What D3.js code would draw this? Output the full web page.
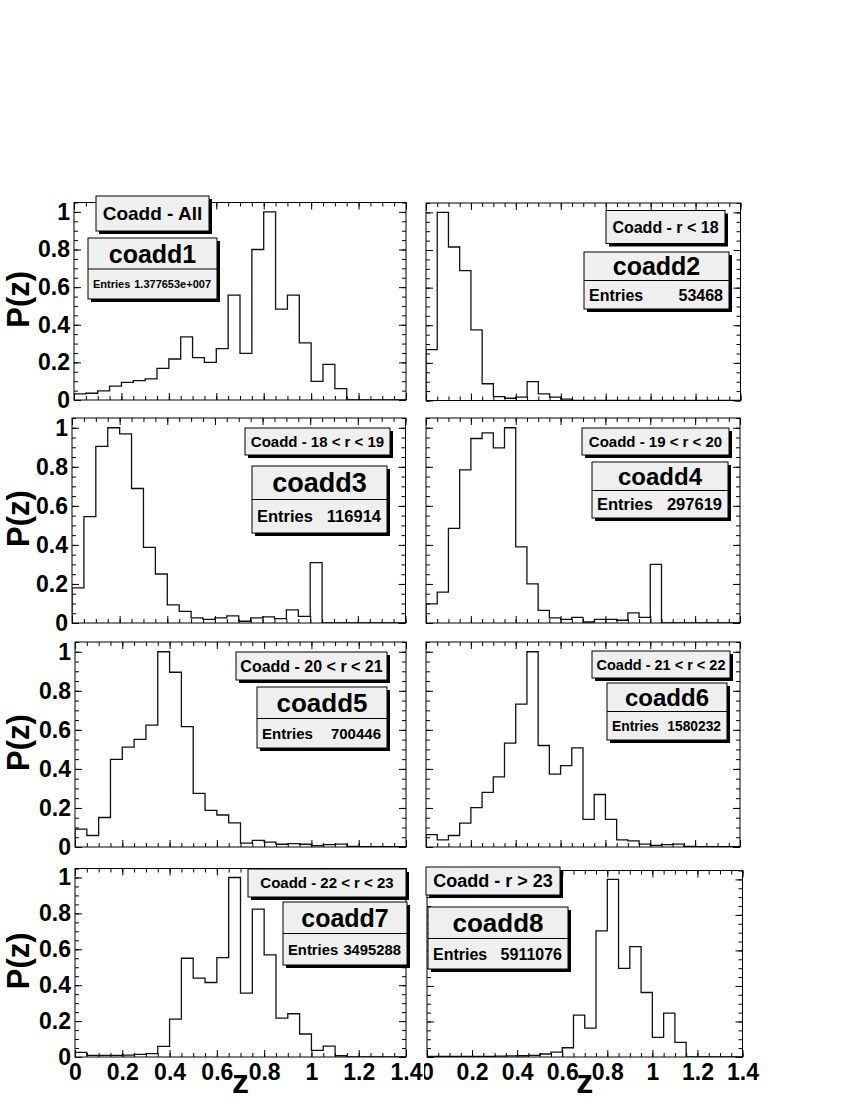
<!DOCTYPE html>
<html>
<head>
<meta charset="utf-8">
<script src="https://cdn.jsdelivr.net/npm/d3@7"></script>
<style>
  body { margin: 0; background: #fff; }
  svg text { font-family: "Liberation Sans", Arial, Helvetica, sans-serif; font-weight: bold; fill: #000; }
</style>
</head>
<body>
<div id="chart"></div>
<script>
// histogram bins: lower edges, width 0.05
const binLow = [0, 0.05, 0.1, 0.15, 0.2, 0.25, 0.3, 0.35, 0.4, 0.45, 0.5, 0.55, 0.6, 0.65,
                0.7, 0.75, 0.8, 0.85, 0.9, 0.95, 1.0, 1.05, 1.1, 1.15, 1.2, 1.25, 1.3, 1.35];
const binWidth = 0.05;

// normalised P(z) per bin
const coadd1 = [0.033, 0.036, 0.048, 0.074, 0.094, 0.103, 0.112, 0.168, 0.218, 0.336, 0.225, 0.2, 0.273, 0.558,
                0.248, 0.8, 1.0, 0.483, 0.558, 0.304, 0.099, 0.189, 0.06, 0, 0, 0, 0, 0];
const coadd2 = [0.27, 1.0, 0.816, 0.69, 0.376, 0.089, 0.021, 0.012, 0.018, 0.1, 0.035, 0.018, 0.007, 0,
                0, 0, 0, 0, 0, 0, 0, 0, 0, 0, 0, 0, 0, 0];
const coadd3 = [0.18, 0.545, 0.905, 1.0, 0.969, 0.689, 0.387, 0.251, 0.093, 0.06, 0.026, 0.019, 0.026, 0.036,
                0.009, 0.026, 0.031, 0.022, 0.067, 0.034, 0.309, 0, 0, 0, 0, 0, 0, 0];
const coadd4 = [0.098, 0.158, 0.485, 0.784, 0.945, 0.974, 0.897, 1.0, 0.39, 0.2, 0.065, 0.026, 0.019, 0.029,
                0.005, 0.019, 0.019, 0.014, 0.052, 0.029, 0.3, 0, 0, 0, 0, 0, 0, 0];
const coadd5 = [0.092, 0.059, 0.151, 0.449, 0.512, 0.551, 0.624, 1.0, 0.895, 0.617, 0.275, 0.188, 0.164, 0.124,
                0.02, 0.034, 0.025, 0.014, 0.017, 0.014, 0.007, 0.012, 0.015, 0.003, 0.002, 0.002, 0.002, 0.002];
const coadd6 = [0.063, 0.037, 0.059, 0.122, 0.202, 0.28, 0.359, 0.532, 0.732, 1.0, 0.52, 0.373, 0.417, 0.508,
                0.142, 0.269, 0.142, 0.037, 0.031, 0.015, 0.008, 0.012, 0.015, 0.003, 0.002, 0.002, 0.002, 0.002];
const coadd7 = [0.026, 0.009, 0.009, 0.009, 0.011, 0.015, 0.019, 0.059, 0.211, 0.55, 0.439, 0.415, 0.554, 1.0,
                0.356, 0.824, 0.569, 0.217, 0.241, 0.128, 0.037, 0.061, 0.007, 0, 0, 0, 0, 0];
const coadd8 = [0.003, 0.003, 0.003, 0.003, 0.003, 0.004, 0.005, 0.006, 0.007, 0.009, 0.017, 0.028, 0.052, 0.236,
                0.163, 0.71, 1.0, 0.499, 0.621, 0.363, 0.11, 0.247, 0.082, 0, 0, 0, 0, 0];

const histNames = ["coadd1", "coadd2", "coadd3", "coadd4", "coadd5", "coadd6", "coadd7", "coadd8"];
const panelLabels = ["Coadd - All", "Coadd - r < 18", "Coadd - 18 < r < 19", "Coadd - 19 < r < 20",
                     "Coadd - 20 < r < 21", "Coadd - 21 < r < 22", "Coadd - 22 < r < 23", "Coadd - r > 23"];
const entries = ["1.377653e+007", "53468", "116914", "297619", "700446", "1580232", "3495288", "5911076"];

const xTicks = [0, 0.2, 0.4, 0.6, 0.8, 1, 1.2, 1.4];
const xTickLabels = ["0", "0.2", "0.4", "0.6", "0.8", "1", "1.2", "1.4"];
const yTicks = [0, 0.2, 0.4, 0.6, 0.8, 1];
const yTickLabels = ["0", "0.2", "0.4", "0.6", "0.8", "1"];

const histograms = [coadd1, coadd2, coadd3, coadd4, coadd5, coadd6, coadd7, coadd8];

// layout (pixels)
const W = 850, H = 1100;
const padX = [[0, 424], [424, 850]];
const padY = [[0, 409], [409, 632], [632, 857], [857, 1100]];
// frame: x0, x1, y0 (top), y1 (bottom)
const frames = [
  [74, 406, 202.5, 400], [426, 740.5, 203, 400.5],
  [72, 405.5, 418, 623], [426, 740, 418, 623],
  [75, 406, 642, 847], [426, 740, 642, 847],
  [75, 406, 868.5, 1057], [427, 742.5, 870.5, 1057]
];
// label box: x0, x1, y0, y1, font size
const labelBoxes = [
  [96, 209, 196, 231, 19], [606, 725, 210.5, 243.5, 16],
  [245, 390, 428, 455, 15], [582, 729, 428, 455, 15],
  [236, 387, 652, 680, 16], [592, 730, 651, 678, 14.5],
  [248, 406, 869, 897, 15], [426, 560, 867, 895, 18]
];
// stats box: x0, x1, y0, y1, divider y, title size, entries size
const statBoxes = [
  [88, 217, 238, 299, 269, 25, 11], [584, 729, 252, 309, 280.5, 25, 16],
  [252, 387, 466, 533, 499.5, 27, 16.5], [592, 728, 462, 518, 490.5, 24, 16.5],
  [257, 387, 687, 748, 718.5, 26, 15], [607, 727, 683, 740, 711.5, 24, 13.8],
  [283, 407, 902, 965, 933.5, 25, 14.8], [428, 568, 907, 969, 938.5, 26, 16]
];

const boxFill = "#efefef";

const svg = d3.select("#chart").append("svg")
  .attr("width", W)
  .attr("height", H);

svg.append("rect").attr("width", W).attr("height", H).attr("fill", "#fff");

const defs = svg.append("defs");

histograms.forEach(function(values, i) {
  let col = i % 2, row = Math.floor(i / 2);
  let [px0, px1] = padX[col], [py0, py1] = padY[row];
  let [fx0, fx1, fy0, fy1] = frames[i];

  defs.append("clipPath").attr("id", "pad" + i)
    .append("rect").attr("x", px0).attr("y", py0).attr("width", px1 - px0).attr("height", py1 - py0);
  defs.append("clipPath").attr("id", "frame" + i)
    .append("rect").attr("x", fx0).attr("y", fy0).attr("width", fx1 - fx0).attr("height", fy1 - fy0);

  let pad = svg.append("g").attr("clip-path", "url(#pad" + i + ")");
  pad.append("rect")
    .attr("x", px0).attr("y", py0).attr("width", px1 - px0).attr("height", py1 - py0)
    .attr("fill", "#fff");

  let x = d3.scaleLinear().domain([0, 1.4]).range([fx0, fx1]);
  let y = d3.scaleLinear().domain([0, 1.05]).range([fy1, fy0]);

  // histogram outline
  let pts = [[0, 0]];
  values.forEach(function(v, k) { pts.push([binLow[k], v]); });
  pts.push([binLow[binLow.length - 1] + binWidth, 0]);

  let line = d3.line()
    .x(function(d) { return x(d[0]); })
    .y(function(d) { return y(d[1]); })
    .curve(d3.curveStepAfter);

  pad.append("path")
    .attr("clip-path", "url(#frame" + i + ")")
    .attr("d", line(pts))
    .attr("fill", "none")
    .attr("stroke", "#111")
    .attr("stroke-width", 1.3);

  // ticks on all four sides, pointing inwards
  let minorX = x.ticks(28), minorY = y.ticks(21);
  let tickAxes = [
    [d3.axisBottom(x), fy1, true], [d3.axisTop(x), fy0, true],
    [d3.axisLeft(y), fx0, false], [d3.axisRight(y), fx1, false]
  ];
  tickAxes.forEach(function([ax, pos, horiz]) {
    let minor = pad.append("g")
      .attr("transform", horiz ? "translate(0," + pos + ")" : "translate(" + pos + ",0)")
      .call(ax.tickValues(horiz ? minorX : minorY).tickSize(-4).tickFormat(""));
    minor.select(".domain").remove();
    let major = pad.append("g")
      .attr("transform", horiz ? "translate(0," + pos + ")" : "translate(" + pos + ",0)")
      .call(ax.tickValues(horiz ? xTicks : yTicks).tickSize(-7).tickFormat(""));
    major.select(".domain").remove();
  });
  pad.selectAll(".tick line").attr("stroke", "#000").attr("stroke-width", 1);

  // frame
  pad.append("rect")
    .attr("x", fx0).attr("y", fy0).attr("width", fx1 - fx0).attr("height", fy1 - fy0)
    .attr("fill", "none").attr("stroke", "#000").attr("stroke-width", 1);

  // y labels + title on the left column
  if (col === 0) {
    let gy = pad.append("g")
      .attr("transform", "translate(" + fx0 + ",0)")
      .call(d3.axisLeft(y).tickValues(yTicks).tickSize(0).tickPadding(4)
        .tickFormat(function(d, k) { return yTickLabels[k]; }));
    gy.select(".domain").remove();
    gy.selectAll("text")
      .attr("font-family", null).attr("fill", "#000")
      .style("font-size", "23px");

    pad.append("text")
      .attr("transform", "translate(29," + ((fy0 + fy1) / 2 - 2) + ") rotate(-90)")
      .attr("text-anchor", "middle")
      .style("font-size", "31px")
      .text("P(z)");
  }

  // x labels + title on the bottom row
  if (row === 3) {
    let gx = pad.append("g")
      .attr("transform", "translate(0," + fy1 + ")")
      .call(d3.axisBottom(x).tickValues(xTicks).tickSize(0).tickPadding(7)
        .tickFormat(function(d, k) { return xTickLabels[k]; }));
    gx.select(".domain").remove();
    gx.selectAll("text")
      .attr("font-family", null).attr("fill", "#000")
      .style("font-size", "23px");

    pad.append("text")
      .attr("x", (fx0 + fx1) / 2)
      .attr("y", 1093)
      .attr("text-anchor", "middle")
      .style("font-size", "34px")
      .text("z");
  }

  // label box with shadow
  let [lx0, lx1, ly0, ly1, lfs] = labelBoxes[i];
  pad.append("rect")
    .attr("x", lx0 + 3).attr("y", ly0 + 3).attr("width", lx1 - lx0).attr("height", ly1 - ly0)
    .attr("fill", "#000");
  pad.append("rect")
    .attr("x", lx0).attr("y", ly0).attr("width", lx1 - lx0).attr("height", ly1 - ly0)
    .attr("fill", boxFill).attr("stroke", "#000").attr("stroke-width", 1);
  pad.append("text")
    .attr("x", (lx0 + lx1) / 2)
    .attr("y", (ly0 + ly1) / 2 + lfs * 0.36)
    .attr("text-anchor", "middle")
    .style("font-size", lfs + "px")
    .text(panelLabels[i]);

  // stats box with shadow
  let [sx0, sx1, sy0, sy1, sdiv, tfs, efs] = statBoxes[i];
  pad.append("rect")
    .attr("x", sx0 + 3).attr("y", sy0 + 3).attr("width", sx1 - sx0).attr("height", sy1 - sy0)
    .attr("fill", "#000");
  pad.append("rect")
    .attr("x", sx0).attr("y", sy0).attr("width", sx1 - sx0).attr("height", sy1 - sy0)
    .attr("fill", boxFill).attr("stroke", "#000").attr("stroke-width", 1);
  pad.append("line")
    .attr("x1", sx0).attr("x2", sx1).attr("y1", sdiv).attr("y2", sdiv)
    .attr("stroke", "#000").attr("stroke-width", 1);
  pad.append("text")
    .attr("x", (sx0 + sx1) / 2)
    .attr("y", (sy0 + sdiv) / 2 + tfs * 0.36)
    .attr("text-anchor", "middle")
    .style("font-size", tfs + "px")
    .text(histNames[i]);
  pad.append("text")
    .attr("x", sx0 + 5)
    .attr("y", (sdiv + sy1) / 2 + efs * 0.36)
    .style("font-size", efs + "px")
    .text("Entries");
  pad.append("text")
    .attr("x", sx1 - 6)
    .attr("y", (sdiv + sy1) / 2 + efs * 0.36)
    .attr("text-anchor", "end")
    .style("font-size", efs + "px")
    .text(entries[i]);
});
</script>
</body>
</html>
